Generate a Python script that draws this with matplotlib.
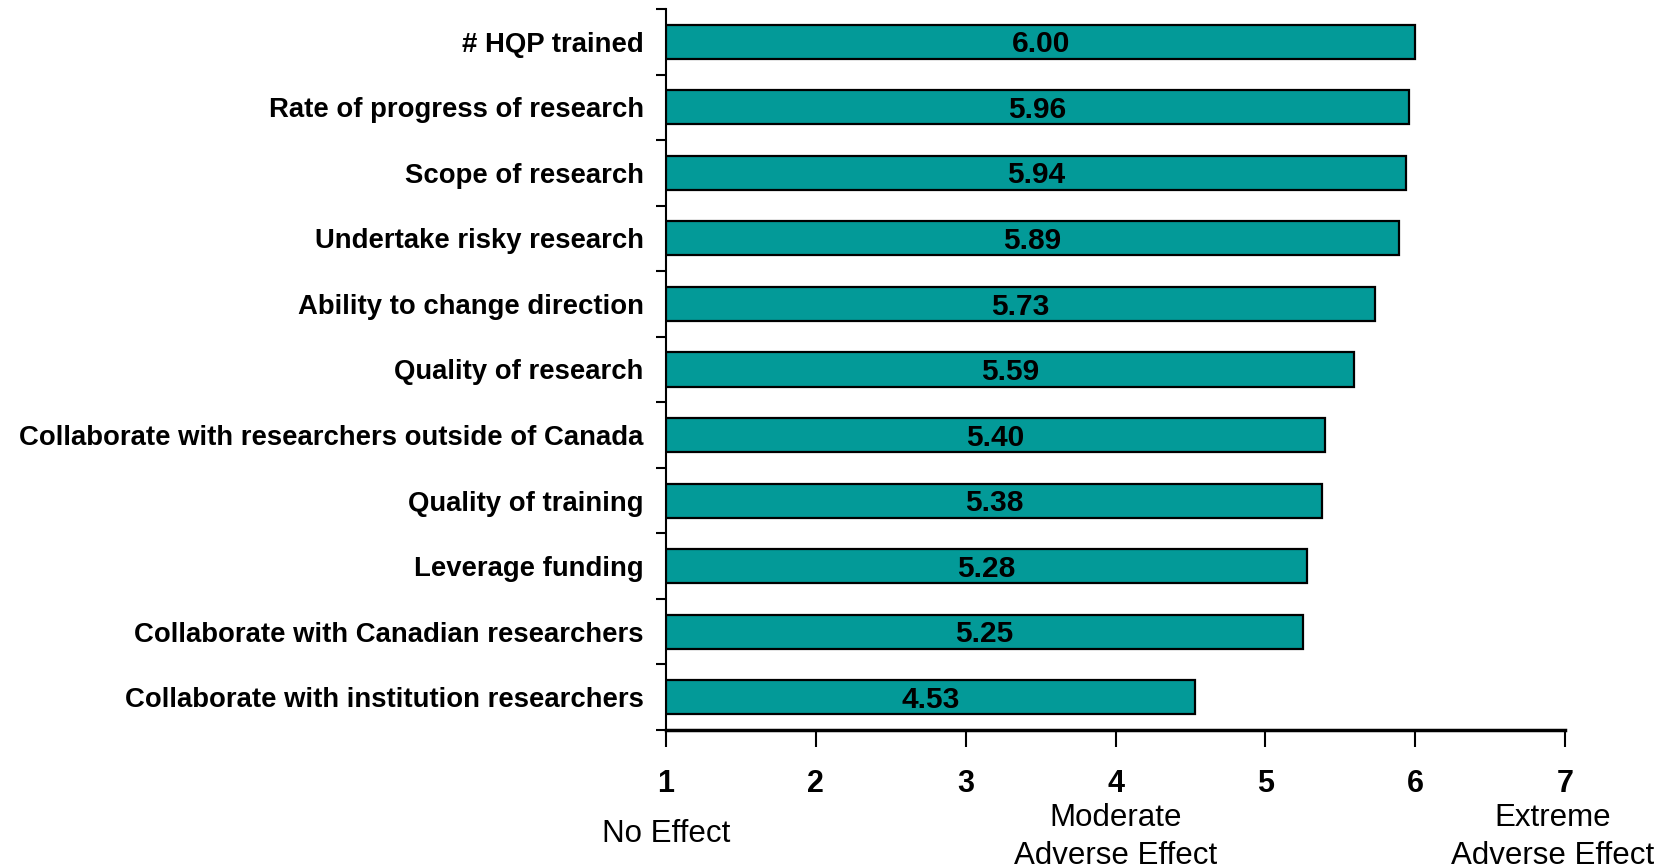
import matplotlib
matplotlib.use("Agg")
import matplotlib.pyplot as plt
import matplotlib.transforms as mtransforms
from matplotlib.ticker import FixedLocator

categories = [
    "# HQP trained",
    "Rate of progress of research",
    "Scope of research",
    "Undertake risky research",
    "Ability to change direction",
    "Quality of research",
    "Collaborate with researchers outside of Canada",
    "Quality of training",
    "Leverage funding",
    "Collaborate with Canadian researchers",
    "Collaborate with institution researchers",
]
values = [6.00, 5.96, 5.94, 5.89, 5.73, 5.59, 5.40, 5.38, 5.28, 5.25, 4.53]
xticks = [1, 2, 3, 4, 5, 6, 7]
scale_labels = [(1, "No Effect"), (4, "Moderate\nAdverse Effect"), (6.92, "Extreme\nAdverse Effect")]

plt.rcParams['font.family'] = ['Liberation Sans', 'DejaVu Sans']

fig = plt.figure(figsize=(16.72, 8.68), dpi=100)
ax = fig.add_axes([666/1672, 1-730/868, 899/1672, (730-9)/868])

ypos = list(range(len(categories)))
ax.barh(ypos, [v - 1 for v in values], left=1, height=0.52,
        color='#039A98', edgecolor='black', linewidth=1.6, zorder=3)
for y, v in zip(ypos, values):
    ax.text((1 + v) / 2, y + 0.04, f"{v:.2f}", ha='center', va='center',
            fontsize=21.5, fontweight='bold', color='black', zorder=4)

ax.set_xlim(1, 7)
ax.set_ylim(len(categories) - 0.5, -0.5)
ax.set_xticks(xticks)
ax.set_xticklabels([str(t) for t in xticks], fontsize=22, fontweight='bold')
ax.tick_params(axis='x', length=12, width=1.5, pad=16, direction='out')

ax.set_yticks(ypos)
ax.set_yticklabels(categories, fontsize=19.8, fontweight='bold')
ax.tick_params(axis='y', which='major', length=0, pad=16)
ax.yaxis.set_minor_locator(FixedLocator([k - 0.5 for k in range(len(categories) + 1)]))
ax.tick_params(axis='y', which='minor', length=7, width=1.5, direction='out')

for s in ['top', 'right']:
    ax.spines[s].set_visible(False)
ax.spines['left'].set_linewidth(1.5)
ax.spines['bottom'].set_linewidth(2.5)

trans = mtransforms.blended_transform_factory(ax.transData, fig.transFigure)
for x, lab in scale_labels:
    lines = lab.split("\n")
    if len(lines) == 1:
        fig.text(x, 1 - 834/868, lab, transform=trans, ha='center', va='center', fontsize=22.5)
    else:
        fig.text(x, 1 - 818/868, lines[0], transform=trans, ha='center', va='center', fontsize=22.5)
        fig.text(x, 1 - 856/868, lines[1], transform=trans, ha='center', va='center', fontsize=22.5)

fig.savefig("out.png", dpi=100)
